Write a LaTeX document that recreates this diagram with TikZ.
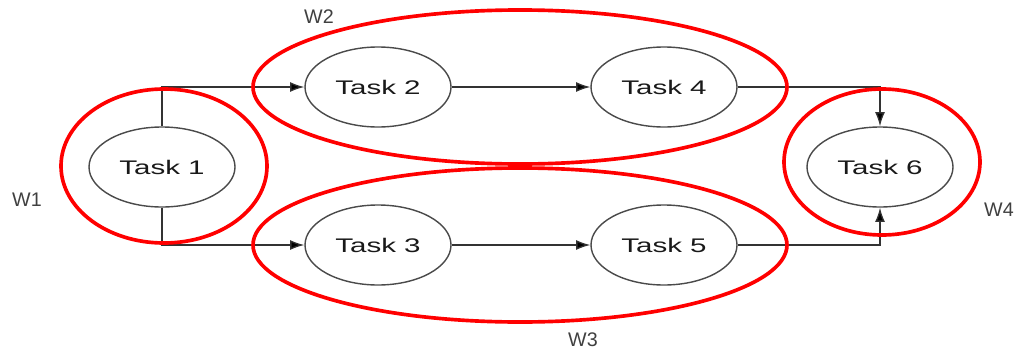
\documentclass[tikz,border=0pt]{standalone}
\usepackage{fontspec}
\setmainfont{Liberation Sans}
\newfontfamily\taskfont[FakeStretch=1.5]{Liberation Sans}
\usepackage{xcolor}
\usepackage{tikz}
\usetikzlibrary{arrows.meta,shapes.geometric}

\definecolor{linegray}{HTML}{333333}
\definecolor{rimgray}{HTML}{4A4A4A}

\tikzset{
  task/.style={ellipse,draw=rimgray,line width=1pt,minimum width=3.65cm,minimum height=2cm,
    inner sep=0pt,font=\taskfont\fontsize{14}{16}\selectfont,text=black!90},
  conn/.style={draw=linegray,line width=0.9pt,-{Latex[length=10pt,width=7pt,fill=black]}},
  wave/.style={draw=red,line width=2.6pt},
  wlabel/.style={font=\fontsize{14}{16}\selectfont,text=black!75}
}

\begin{document}
\begin{tikzpicture}
\useasboundingbox (0,0) rectangle (25.425,8.85);
\node[task] (t1) at (4.05,4.675) {Task 1};
\node[task] (t2) at (9.45,6.675) {Task 2};
\node[task] (t4) at (16.6,6.675) {Task 4};
\node[task] (t3) at (9.45,2.725) {Task 3};
\node[task] (t5) at (16.6,2.725) {Task 5};
\node[task] (t6) at (22.0,4.675) {Task 6};
\draw[conn] (t1.north) |- (t2.west);
\draw[conn] (t1.south) |- (t3.west);
\draw[conn] (t2) -- (t4);
\draw[conn] (t3) -- (t5);
\draw[conn] (t4.east) -| (t6.north);
\draw[conn] (t5.east) -| (t6.south);
% waves
\draw[wave] (4.1,4.7) ellipse (2.575 and 1.925);
\draw[wave] (13.0,6.675) ellipse (6.675 and 1.925);
\draw[wave] (13.0,2.725) ellipse (6.675 and 1.925);
\draw[wave] (22.05,4.8) ellipse (2.45 and 1.825);
\node[wlabel] (w1) at (0.675,3.85) {W1};
\node[wlabel] (w2) at (7.975,8.425) {W2};
\node[wlabel] (w3) at (14.575,0.35) {W3};
\node[wlabel] (w4) at (24.975,3.6) {W4};
\end{tikzpicture}
\end{document}
